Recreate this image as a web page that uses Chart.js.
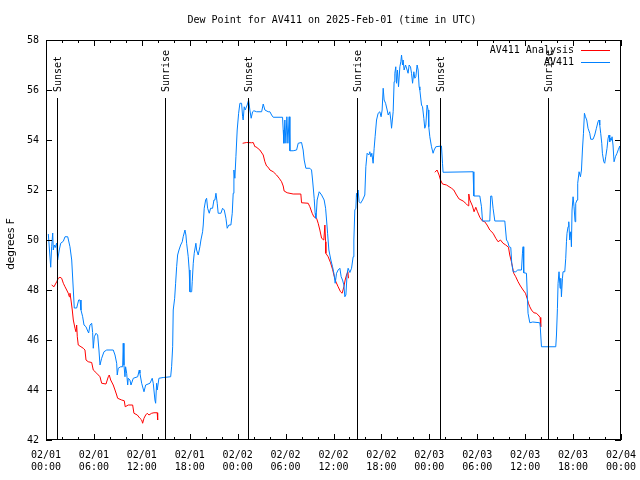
<!DOCTYPE html>
<html>
<head>
<meta charset="utf-8">
<script src="https://cdn.jsdelivr.net/npm/chart.js@4.4.1/dist/chart.umd.min.js"></script>
<style>
  html, body { margin: 0; padding: 0; background: #fff; }
  #wrap { width: 640px; height: 480px; }
</style>
</head>
<body>
<div id="wrap"><canvas id="grafica" width="640" height="480"></canvas></div>
<script>
// hours since 02/01 00:00 UTC
const obsHours = [0.29, 0.59, 0.71, 0.84, 0.91, 1.04, 1.16, 1.34, 1.46, 1.66, 1.84, 2.17, 2.38, 2.72, 3.0, 3.22, 3.42, 3.54, 3.84, 4.09, 4.26, 4.38, 4.59, 4.76, 5.01, 5.17, 5.34, 5.51, 5.72, 5.84, 5.92, 6.05, 6.26, 6.47, 6.63, 6.76, 6.97, 7.26, 7.6, 8.42, 8.64, 8.85, 8.92, 9.05, 9.35, 9.6, 9.67, 9.76, 9.89, 9.97, 10.1, 10.23, 10.3, 10.51, 10.64, 10.93, 11.48, 11.68, 11.76, 11.98, 12.27, 12.48, 13.02, 13.3, 13.43, 13.64, 13.73, 13.85, 13.93, 14.14, 14.68, 15.61,
  15.73, 15.86, 15.93, 16.11, 16.23, 16.36, 16.48, 16.65, 16.86, 17.06, 17.18, 17.4, 17.52, 17.61, 17.81, 17.93, 18.02, 18.24, 18.31, 18.44, 18.56, 18.77, 18.86, 19.06, 19.27, 19.4, 19.61, 19.69, 19.81, 19.99, 20.11, 20.24, 20.44, 20.61, 20.86, 21.03, 21.15, 21.28, 21.44, 21.56, 21.9, 22.11, 22.32, 22.53, 22.69, 22.9, 23.15, 23.32, 23.44, 23.53, 23.65, 23.78, 23.94,
  24.12, 24.28, 24.49, 24.62, 24.69, 24.82, 24.94, 25.19, 25.37, 25.53, 25.69, 25.87, 26.03, 26.37, 27.0, 27.2, 27.41, 27.82, 28.04, 28.25, 28.45, 29.62, 29.7, 29.79, 29.91, 30.04, 30.16, 30.29, 30.45, 30.54, 30.95, 31.38, 31.58, 32.0, 32.2, 32.33, 32.54, 33.04, 33.25, 33.38, 33.58, 33.7, 33.79, 33.88, 33.95, 34.21, 34.51, 34.83, 35.01, 35.13, 35.26, 35.42, 35.67, 35.88, 36.05, 36.21, 36.38, 36.58, 36.8, 36.96, 37.13, 37.3, 37.42, 37.55, 37.71, 37.83, 38.05, 38.26, 38.46, 38.55, 38.67, 38.8, 38.88, 38.96, 39.08, 39.21, 39.39, 39.64, 39.92,
  40.05, 40.21, 40.42, 40.55, 40.68, 40.8, 40.96, 41.09, 41.21, 41.39, 41.59, 41.8, 41.96, 42.09, 42.22, 42.34, 42.52, 42.72, 42.85, 43.05, 43.18, 43.27, 43.47, 43.59, 43.68, 43.8, 43.89, 44.01, 44.14, 44.31, 44.43, 44.52, 44.64, 44.72, 44.84, 45.02, 45.22, 45.34, 45.47, 45.64, 45.77, 45.9, 46.06, 46.18, 46.31, 46.47, 46.6, 46.72, 46.81, 47.02, 47.15, 47.31, 47.43, 47.56, 47.72, 47.85, 47.93, 48.06, 48.27, 48.47, 48.6, 48.81, 49.52, 49.65, 49.72,
  53.48, 53.57, 54.32, 54.53, 54.66, 55.57, 55.69, 55.82, 55.98, 56.2, 57.45, 57.66, 57.82, 57.99, 58.2, 58.32, 58.49, 58.82, 59.07, 59.54, 59.66, 59.74, 59.82, 60.16, 60.36, 60.58, 60.95, 61.83, 61.89, 62.04, 63.83, 63.92,
  64.04, 64.12, 64.24, 64.37, 64.46, 64.54, 64.67, 64.74, 64.96, 65.08, 65.17, 65.24, 65.37, 65.46, 65.58, 65.71, 65.79, 65.87, 66.0, 66.12, 66.25, 66.33, 66.5, 66.58, 66.75, 66.92, 67.05, 67.17, 67.3, 67.42, 67.55, 67.71, 67.87, 68.09, 68.21, 68.5, 68.71, 68.92, 69.12, 69.25, 69.34, 69.46, 69.59, 69.67, 69.84, 69.96, 70.09, 70.25, 70.38, 70.5, 70.59, 70.71, 70.8, 70.88, 71.0, 71.13, 71.3, 71.5, 71.68, 71.85, 71.93];
const obsDew = [50.24, 48.91, 49.73, 50.28, 49.6, 49.8, 49.7, 49.88, 49.2, 49.6, 49.87, 49.95, 50.13, 50.13, 49.73, 49.2, 48.0, 47.28, 47.28, 47.6, 47.6, 47.2, 46.93, 46.6, 46.53, 46.4, 46.28, 46.6, 46.67, 46.3, 45.67, 46.13, 46.27, 46.2, 45.6, 45.0, 45.27, 45.53, 45.6, 45.6, 45.4, 45.07, 44.6, 44.87, 44.93, 44.93, 45.87, 45.0, 44.53, 44.93, 44.67, 44.2, 44.47, 44.4, 44.2, 44.47, 44.53, 44.8, 44.67, 44.27, 43.93, 44.2, 44.27, 44.47, 44.27, 43.6, 43.47, 44.27, 44.0, 44.47, 44.5, 44.53,
  44.93, 45.73, 47.2, 47.67, 48.27, 48.93, 49.4, 49.6, 49.8, 49.93, 50.13, 50.4, 50.2, 49.87, 49.33, 48.8, 47.93, 47.93, 48.33, 49.07, 49.47, 49.87, 49.6, 49.4, 49.73, 50.0, 50.33, 50.6, 51.27, 51.6, 51.67, 51.27, 51.07, 51.27, 51.27, 51.6, 51.6, 51.87, 51.47, 51.07, 51.07, 51.27, 51.2, 50.87, 50.47, 50.6, 50.6, 51.07, 51.87, 52.8, 52.47, 53.33, 54.4,
  55.07, 55.47, 55.47, 54.93, 54.8, 55.33, 55.2, 55.4, 55.6, 55.2, 54.87, 55.13, 55.17, 55.13, 55.13, 55.44, 55.2, 55.13, 55.13, 55.0, 54.91, 54.91, 54.4, 53.87, 54.8, 53.87, 54.93, 53.87, 54.93, 53.57, 53.57, 53.6, 53.87, 53.9, 53.6, 53.2, 52.87, 52.87, 52.8, 52.4, 51.67, 51.07, 50.87, 51.2, 51.6, 51.93, 51.8, 51.6, 51.27, 50.8, 50.27, 49.6, 49.2, 48.93, 48.67, 48.27, 48.67, 48.8, 48.87, 48.53, 48.4, 48.2, 47.73, 47.8, 48.67, 48.87, 48.7, 48.87, 49.33, 50.0, 51.2, 51.27, 51.87, 51.73, 52.0, 51.53, 51.47, 51.6, 51.8,
  52.93, 53.47, 53.4, 53.53, 53.33, 53.47, 53.07, 53.67, 54.13, 54.8, 55.07, 55.13, 54.93, 55.2, 56.07, 55.6, 55.47, 55.2, 55.0, 55.13, 54.8, 54.47, 55.13, 56.33, 56.67, 56.93, 56.27, 56.8, 56.13, 56.93, 57.13, 57.4, 57.0, 57.2, 56.8, 57.0, 56.8, 56.67, 57.0, 56.93, 56.67, 56.27, 56.73, 56.47, 56.53, 57.0, 56.8, 56.13, 56.0, 55.4, 55.33, 54.87, 54.47, 54.6, 55.4, 55.2, 54.53, 54.13, 53.73, 53.47, 53.6, 53.73, 53.76, 53.07, 52.71,
  52.73, 51.76, 51.76, 51.33, 50.76, 50.76, 51.76, 51.76, 51.27, 50.76, 50.76, 50.0, 49.93, 49.73, 49.7, 49.07, 48.73, 48.73, 48.8, 48.8, 49.47, 49.73, 48.69, 48.67, 47.07, 46.69, 46.72, 46.69, 46.53, 45.73, 45.73, 46.2,
  47.27, 48.27, 48.73, 48.07, 48.47, 47.73, 48.47, 48.73, 48.73, 49.27, 49.93, 50.27, 50.53, 50.73, 50.0, 50.33, 49.73, 51.2, 51.73, 51.33, 50.73, 51.47, 51.6, 52.27, 52.73, 52.53, 52.8, 53.6, 54.27, 55.07, 54.93, 54.8, 54.47, 54.27, 54.03, 54.03, 54.2, 54.47, 54.73, 54.8, 54.6, 54.27, 53.87, 53.47, 53.13, 53.07, 53.33, 53.67, 54.07, 54.2, 53.93, 54.07, 53.99, 54.13, 53.8, 53.13, 53.33, 53.47, 53.63, 53.76, 53.47];

// analysis, null = no analysis (gap)
const anaHours = [0.71, 1.0, 1.34, 1.54, 1.75, 1.96, 2.17, 2.38, 2.59, 2.79, 2.92, 3.0, 3.13, 3.29, 3.42, 3.63, 3.75, 3.84, 3.92, 4.04, 4.38, 4.67, 4.88, 5.01, 5.29, 5.72, 5.92, 6.35, 6.76, 6.97, 7.51, 7.8, 7.92, 8.1, 8.42, 8.64, 8.85, 8.97, 9.47, 9.8, 9.92, 10.3, 10.85, 11.01, 11.43, 11.76, 11.98, 12.1, 12.27, 12.48, 12.68, 12.89, 13.23, 13.52, 13.93, 13.98,
  19.0,
  24.62, 25.12, 25.74, 25.95, 26.16, 26.28, 26.78, 27.2, 27.41, 27.62, 27.82, 28.04, 28.45, 28.87, 29.2, 29.5, 29.7, 29.82, 30.2, 30.95, 31.91, 32.0, 32.83, 33.04, 33.33, 33.54, 33.88, 34.08, 34.29, 34.51, 34.79, 34.92, 35.01, 35.04, 35.33, 35.63, 35.88, 36.05, 36.3, 36.58, 36.88, 37.08, 37.3, 37.46, 37.63, 37.8, 37.88,
  43.0,
  48.69, 48.97, 49.22, 49.4, 49.65, 50.15, 50.78, 51.06, 51.4, 51.73, 52.23, 52.65, 52.85, 52.94, 53.07, 53.4, 53.6, 53.82, 54.03, 54.32, 54.61, 54.94, 55.23, 55.57, 55.98, 56.32, 56.61, 56.91, 57.23, 57.57, 57.91, 58.07, 58.28, 58.57, 58.82, 59.11, 59.41, 59.74, 60.04, 60.24, 60.41, 60.58, 60.79, 61.08, 61.41, 61.74, 61.87, 61.95];
const anaDew = [48.2, 48.13, 48.33, 48.47, 48.51, 48.47, 48.27, 48.13, 48.0, 47.87, 47.73, 47.87, 47.6, 47.2, 46.8, 46.47, 46.33, 46.6, 46.13, 45.8, 45.73, 45.67, 45.6, 45.2, 45.13, 45.1, 44.8, 44.67, 44.53, 44.27, 44.24, 44.53, 44.6, 44.4, 44.2, 44.0, 43.8, 43.67, 43.6, 43.57, 43.33, 43.4, 43.4, 43.07, 43.0, 42.87, 42.8, 42.67, 42.87, 43.0, 43.07, 43.0, 43.07, 43.09, 43.09, 42.8,
  null,
  53.87, 53.9, 53.89, 53.9, 53.73, 53.73, 53.6, 53.4, 53.13, 52.96, 52.91, 52.8, 52.73, 52.6, 52.47, 52.33, 52.16, 51.96, 51.89, 51.84, 51.84, 51.49, 51.47, 51.33, 51.07, 50.93, 50.87, 50.67, 50.4, 50.07, 50.0, 50.6, 49.93, 49.47, 49.33, 49.09, 48.83, 48.6, 48.33, 48.13, 47.93, 47.87, 48.13, 48.4, 48.6, 48.73, 48.47,
  null,
  52.71, 52.8, 52.6, 52.4, 52.24, 52.2, 52.07, 52.0, 51.8, 51.64, 51.56, 51.44, 51.37, 51.84, 51.6, 51.36, 51.13, 51.31, 51.13, 50.91, 50.77, 50.73, 50.6, 50.4, 50.27, 50.07, 49.93, 50.0, 49.87, 49.8, 49.71, 49.4, 49.13, 48.67, 48.53, 48.33, 48.16, 48.0, 47.87, 47.67, 47.47, 47.33, 47.2, 47.09, 47.07, 46.96, 46.9, 46.53];

const sunHours = [1.41, 14.93, 25.32, 38.96, 49.37, 62.86];
const sunLabels = ['Sunset', 'Sunrise', 'Sunset', 'Sunrise', 'Sunset', 'Sunrise'];
const dayLabels = ['02/01', '02/02', '02/03', '02/04'];
const xTicks = [0, 6, 12, 18, 24, 30, 36, 42, 48, 54, 60, 66, 72];
const yTicks = [42, 44, 46, 48, 50, 52, 54, 56, 58];

const MONO = "'DejaVu Sans Mono', 'Liberation Mono', monospace";
const RED = '#ff0000';
const BLUE = '#0080ff';

const toPoints = (xs, ys) => xs.map((x, i) => ({ x, y: ys[i] }));

const extras = {
  id: 'extras',
  afterDatasetsDraw(chart) {
    const { ctx, chartArea: a, scales } = chart;
    const xs = scales.x;
    const ys = scales.y;
    ctx.save();
    // sunrise / sunset markers
    ctx.strokeStyle = '#000';
    ctx.lineWidth = 1;
    ctx.fillStyle = '#000';
    ctx.font = `10px ${MONO}`;
    sunHours.forEach((h, i) => {
      const px = Math.round(xs.getPixelForValue(h)) + 0.5;
      ctx.beginPath();
      ctx.moveTo(px, 98);
      ctx.lineTo(px, a.bottom);
      ctx.stroke();
      ctx.save();
      ctx.translate(px + 1, 92);
      ctx.rotate(-Math.PI / 2);
      ctx.textAlign = 'left';
      ctx.textBaseline = 'middle';
      ctx.fillText(sunLabels[i], 0, 0);
      ctx.restore();
    });
    // border
    ctx.strokeRect(a.left + 0.5, a.top + 0.5, a.right - a.left - 1, a.bottom - a.top - 1);
    // ticks (inward, mirrored)
    ctx.beginPath();
    for (let h = 0; h <= 72; h += 2) {
      const px = Math.round(xs.getPixelForValue(h)) + 0.5;
      const len = h % 6 === 0 ? 6 : 3;
      ctx.moveTo(px, a.bottom);
      ctx.lineTo(px, a.bottom - len);
      ctx.moveTo(px, a.top);
      ctx.lineTo(px, a.top + len);
    }
    yTicks.forEach((v) => {
      const py = Math.round(ys.getPixelForValue(v)) + 0.5;
      ctx.moveTo(a.left, py);
      ctx.lineTo(a.left + 6, py);
      ctx.moveTo(a.right, py);
      ctx.lineTo(a.right - 6, py);
    });
    ctx.stroke();
    // legend
    ctx.textAlign = 'right';
    ctx.textBaseline = 'middle';
    [['AV411 Analysis', RED, 50.5], ['AV411', BLUE, 62.5]].forEach(([txt, col, y]) => {
      ctx.fillStyle = '#000';
      ctx.fillText(txt, 574, y);
      ctx.strokeStyle = col;
      ctx.beginPath();
      ctx.moveTo(581, Math.floor(y) + 0.5);
      ctx.lineTo(610, Math.floor(y) + 0.5);
      ctx.stroke();
    });
    // title
    ctx.fillStyle = '#000';
    ctx.textAlign = 'center';
    ctx.fillText('Dew Point for AV411 on 2025-Feb-01 (time in UTC)', 332, 20);
    // y label
    ctx.save();
    ctx.translate(11, 244);
    ctx.rotate(-Math.PI / 2);
    ctx.font = "10.5px 'DejaVu Sans', sans-serif";
    ctx.fillText('degrees F', 0, 0);
    ctx.restore();
    ctx.restore();
  },
};

// eslint-disable-next-line no-new, no-undef
new Chart(document.querySelector('#grafica'), {
  type: 'line',
  data: {
    datasets: [
      {
        label: 'AV411',
        data: toPoints(obsHours, obsDew),
        borderColor: BLUE,
        borderWidth: 1,
        pointRadius: 0,
        tension: 0,
        order: 0,
      },
      {
        label: 'AV411 Analysis',
        data: toPoints(anaHours, anaDew),
        borderColor: RED,
        borderWidth: 1,
        pointRadius: 0,
        tension: 0,
        spanGaps: false,
        order: 1,
      },
    ],
  },
  options: {
    responsive: false,
    animation: false,
    devicePixelRatio: 1,
    layout: { padding: { top: 40, right: 19, left: 0, bottom: 0 } },
    plugins: { legend: { display: false }, tooltip: { enabled: false }, title: { display: false } },
    scales: {
      x: {
        type: 'linear',
        min: 0,
        max: 72,
        grid: { display: false, drawTicks: false },
        border: { display: false },
        afterFit: (scale) => {
          scale.height = 40;
          scale.paddingLeft = 0;
          scale.paddingRight = 0;
        },
        afterBuildTicks: (scale) => { scale.ticks = xTicks.map((v) => ({ value: v })); },
        ticks: {
          autoSkip: false,
          maxRotation: 0,
          padding: 9,
          color: '#000',
          font: { family: MONO, size: 10, lineHeight: 1.2 },
          callback: (v) => [dayLabels[Math.floor(v / 24)], `${String(v % 24).padStart(2, '0')}:00`],
        },
      },
      y: {
        min: 42,
        max: 58,
        grid: { display: false, drawTicks: false },
        border: { display: false },
        afterFit: (scale) => { scale.width = 46; },
        afterBuildTicks: (scale) => { scale.ticks = yTicks.map((v) => ({ value: v })); },
        ticks: {
          padding: 7,
          color: '#000',
          font: { family: MONO, size: 10 },
        },
      },
    },
  },
  plugins: [extras],
});
</script>
</body>
</html>
